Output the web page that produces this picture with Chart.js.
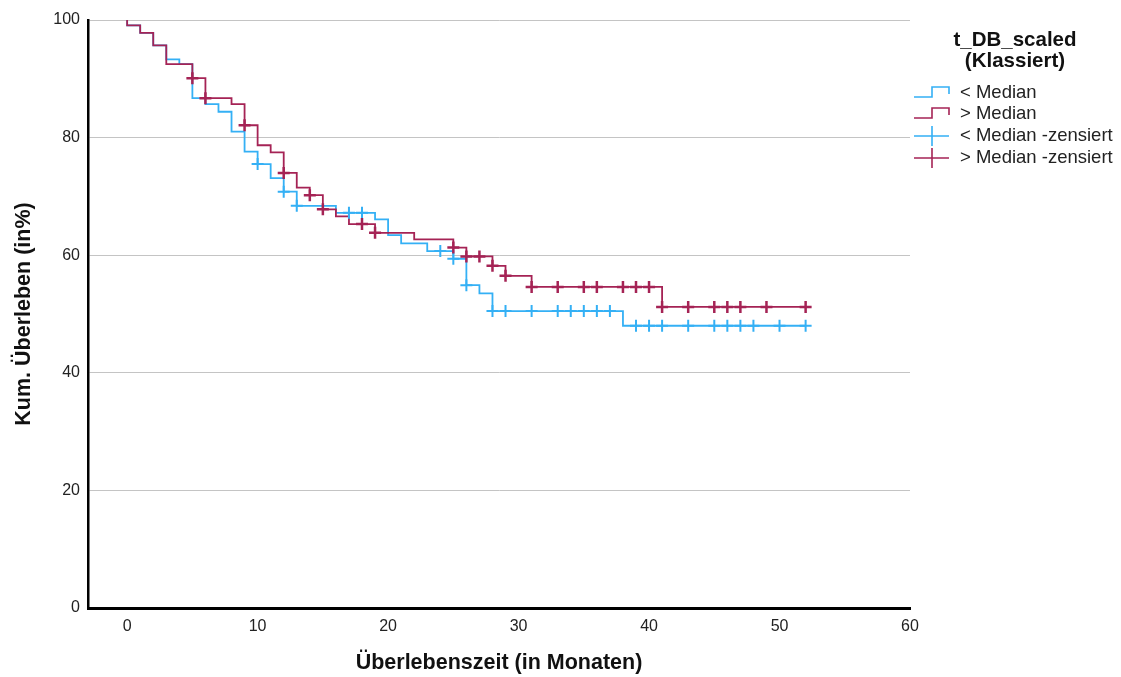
<!DOCTYPE html>
<html>
<head>
<meta charset="utf-8">
<script src="https://cdn.jsdelivr.net/npm/chart.js@4.4.0/dist/chart.umd.min.js"></script>
<style>
  html, body { margin: 0; padding: 0; background: #fff; }
  #wrap { width: 1121px; height: 677px; position: relative; }
</style>
</head>
<body>
<div id="wrap"><canvas id="kmChart"></canvas></div>
<script>
// Kaplan-Meier steps, time in months / cum. survival in %
const belowTimes = [0,0,1,2,3,4,5,6,7,8,9,10,11,12,13,16,19,20,21,23,25,26,27,28,38,52];
const belowSurv  = [100,99.1,97.8,95.7,93.3,92.5,86.7,85.7,84.4,81.0,77.6,75.5,73.1,70.8,68.4,67.2,66.1,63.4,62.0,60.7,59.4,54.9,53.5,50.5,48.0,48.0];

const aboveTimes = [0,0,1,2,3,5,6,8,9,10,11,12,13,14,15,16,17,19,22,25,26,28,29,31,41,52];
const aboveSurv  = [100,99.1,97.8,95.7,92.5,90.1,86.7,85.7,82.1,78.7,77.5,74.0,71.5,70.2,67.8,66.6,65.3,63.8,62.7,61.3,59.8,58.2,56.5,54.6,51.2,51.2];

// censored cases
const belowCensTimes = [10,12,13,17,18,24,25,26,28,29,31,33,34,35,36,37,39,40,41,43,45,46,47,48,50,52];
const belowCensSurv  = [75.5,70.8,68.4,67.2,67.2,60.7,59.4,54.9,50.5,50.5,50.5,50.5,50.5,50.5,50.5,50.5,48.0,48.0,48.0,48.0,48.0,48.0,48.0,48.0,48.0,48.0];

const aboveCensTimes = [5,6,9,12,14,15,18,19,25,26,27,28,29,31,33,35,36,38,39,40,41,43,45,46,47,49,52];
const aboveCensSurv  = [90.1,86.7,82.1,74.0,70.2,67.8,65.3,63.8,61.3,59.8,59.8,58.2,56.5,54.6,54.6,54.6,54.6,54.6,54.6,54.6,51.2,51.2,51.2,51.2,51.2,51.2,51.2];

const xTicks = [0,10,20,30,40,50,60];
const yTicks = [0,20,40,60,80,100];
const legendTitle = ['t_DB_scaled','(Klassiert)'];
const legendLabels = ['< Median','> Median','< Median -zensiert','> Median -zensiert'];

const blue = 'rgb(52,176,245)';
const red = 'rgb(165,35,85)';

function toPoints(xs, ys){
  return xs.map((x,i)=>({x:x, y:ys[i]}));
}

// legend on the right, drawn by hand (step icons)
const kmLegend = {
  id: 'kmLegend',
  afterDraw(chart){
    const ctx = chart.ctx;
    ctx.save();
    ctx.fillStyle = '#111';
    ctx.textAlign = 'center';
    ctx.textBaseline = 'middle';
    ctx.font = 'bold 20.5px "Liberation Sans", Arial, sans-serif';
    ctx.fillText(legendTitle[0], 1015, 40);
    ctx.fillText(legendTitle[1], 1015, 61);

    const rows = [93, 114, 136, 158];
    const cols = [blue, red, blue, red];
    ctx.textAlign = 'left';
    ctx.font = '18.5px "Liberation Sans", Arial, sans-serif';
    rows.forEach((y,i)=>{
      ctx.strokeStyle = cols[i];
      ctx.lineWidth = 1.6;
      ctx.beginPath();
      if(i < 2){
        ctx.moveTo(914, y+4); ctx.lineTo(932, y+4); ctx.lineTo(932, y-6);
        ctx.lineTo(949, y-6); ctx.lineTo(949, y+1);
      } else {
        ctx.moveTo(914, y); ctx.lineTo(949, y);
        ctx.moveTo(932, y-10); ctx.lineTo(932, y+10);
      }
      ctx.stroke();
      ctx.fillStyle = '#222';
      ctx.fillText(legendLabels[i], 960, y);
    });
    ctx.restore();
  }
};

const ctx = document.getElementById('kmChart').getContext('2d');
const chart = new Chart(ctx, {
  type: 'line',
  data: {
    datasets: [
      {label: legendLabels[0], data: toPoints(belowTimes, belowSurv), stepped: true,
       borderColor: blue, borderWidth: 1.8, pointRadius: 0, fill: false, order: 4},
      {label: legendLabels[1], data: toPoints(aboveTimes, aboveSurv), stepped: true,
       borderColor: red, borderWidth: 1.8, pointRadius: 0, fill: false, order: 3},
      {label: legendLabels[2], data: toPoints(belowCensTimes, belowCensSurv), showLine: false,
       pointStyle: 'cross', pointRadius: 6, pointBorderWidth: 2, borderColor: blue, order: 2},
      {label: legendLabels[3], data: toPoints(aboveCensTimes, aboveCensSurv), showLine: false,
       pointStyle: 'cross', pointRadius: 6, pointBorderWidth: 2.5, borderColor: red, order: 1}
    ]
  },
  options: {
    responsive: true,
    maintainAspectRatio: false,
    animation: false,
    layout: {padding: {left: 0, top: 20, right: 211, bottom: 0}},
    plugins: {legend: {display: false}, tooltip: {enabled: false}},
    scales: {
      x: {
        type: 'linear', min: -3, max: 60,
        afterFit: (s)=>{ s.height = 69; },
        afterBuildTicks: (s)=>{ s.ticks = xTicks.map(v=>({value:v})); },
        grid: {display: false, drawTicks: false},
        border: {display: true, color: '#000', width: 3},
        ticks: {padding: 9, color: '#222', font: {family: '"Liberation Sans", Arial, sans-serif', size: 16}, maxRotation: 0},
        title: {display: true, text: 'Überlebenszeit (in Monaten)', color: '#111',
                font: {family: '"Liberation Sans", Arial, sans-serif', size: 21.5, weight: 'bold'},
                padding: {top: 0, bottom: 1}}
      },
      y: {
        min: 0, max: 100,
        afterFit: (s)=>{ s.width = 88; },
        afterBuildTicks: (s)=>{ s.ticks = yTicks.map(v=>({value:v})); },
        grid: {color: '#c4c4c4', lineWidth: 1, drawTicks: false},
        border: {display: true, color: '#000', width: 2.5},
        ticks: {padding: 8, color: '#222', font: {family: '"Liberation Sans", Arial, sans-serif', size: 16}},
        title: {display: true, text: 'Kum. Überleben (in%)', color: '#111',
                font: {family: '"Liberation Sans", Arial, sans-serif', size: 21.5, weight: 'bold'},
                padding: {top: 11, bottom: 0}}
      }
    }
  },
  plugins: [kmLegend]
});
</script>
</body>
</html>
